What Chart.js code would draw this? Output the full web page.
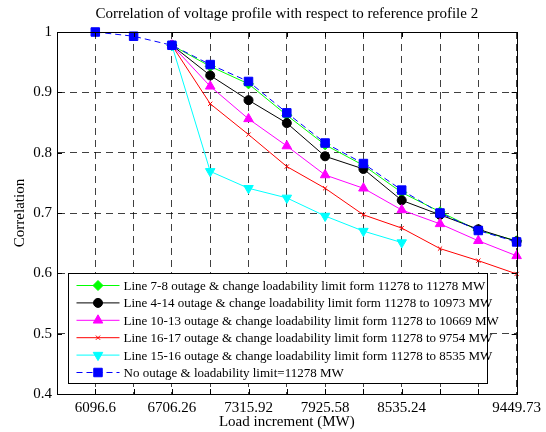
<!DOCTYPE html>
<html lang="en">
<head>
    <meta charset="UTF-8">
    <title>Correlation of voltage profile</title>
    <script src="https://cdn.jsdelivr.net/npm/chart.js"></script>
    <style>
        html, body { margin: 0; padding: 0; background: #fff; }
        .chart-box { width: 546px; height: 432px; }
    </style>
</head>
<body>
    <div class="chart-box"><canvas id="corrChart"></canvas></div>

    <script>
        // load steps (MW) and the axis start
        const loads = [6096.6, 6401.43, 6706.26, 7011.09, 7315.92, 7620.75, 7925.58, 8230.41, 8535.24, 8840.07, 9144.9, 9449.73];
        const xStart = 5791.77;
        const xTickLabels = ['6096.6', '6706.26', '7315.92', '7925.58', '8535.24', '9449.73'];

        const line78 = [null, null, 0.978, 0.943, 0.914, 0.862, 0.813, 0.779, 0.734, 0.702, 0.671, 0.654];
        const line414 = [null, null, 0.978, 0.928, 0.887, 0.849, 0.794, 0.773, 0.721, 0.697, 0.673, 0.653];
        const line1013 = [null, null, 0.978, 0.910, 0.856, 0.811, 0.763, 0.741, 0.705, 0.682, 0.654, 0.629];
        const line1617 = [null, null, 0.978, 0.881, 0.830, 0.777, 0.741, 0.697, 0.675, 0.641, 0.621, 0.599];
        const line1516 = [null, null, 0.978, 0.769, 0.741, 0.725, 0.695, 0.670, 0.651, null, null, null];
        const noOutage = [1.0, 0.993, 0.978, 0.946, 0.918, 0.866, 0.816, 0.782, 0.738, 0.700, 0.671, 0.652];

        const labels = [
            'Line 7-8 outage & change loadability limit form 11278 to 11278 MW',
            'Line 4-14 outage & change loadability limit form 11278 to 10973 MW',
            'Line 10-13 outage & change loadability limit form 11278 to 10669 MW',
            'Line 16-17 outage & change loadability limit form 11278 to 9754 MW',
            'Line 15-16 outage & change loadability limit form 11278 to 8535 MW',
            'No outage & loadability limit=11278 MW'
        ];
        const chartTitle = 'Correlation of voltage profile with respect to reference profile 2';

        const serif = 'Liberation Serif, Times New Roman, serif';

        function pts(arr) {
            return arr.map((v, i) => ({ x: loads[i], y: v }));
        }

        function ds(label, data, color, style, radius, extra) {
            return Object.assign({
                label: label,
                data: pts(data),
                borderColor: color,
                backgroundColor: color,
                borderWidth: 1,
                pointStyle: style,
                pointRadius: radius,
                pointBorderWidth: 1,
                pointBorderColor: color,
                pointBackgroundColor: color,
                tension: 0,
                spanGaps: false,
                clip: false,
                order: 1
            }, extra || {});
        }

        const datasets = [
            ds(labels[0], line78, '#00ff00', 'rectRot', 5, { order: 6 }),
            ds(labels[1], line414, '#000000', 'circle', 4.5, { order: 5 }),
            ds(labels[2], line1013, '#ff00ff', 'triangle', 5.5, { order: 4 }),
            ds(labels[3], line1617, '#ff0000', 'crossRot', 3, { order: 3 }),
            ds(labels[4], line1516, '#00ffff', 'triangle', 5.5, { order: 2, pointRotation: 180 }),
            ds(labels[5], noOutage, '#0000ff', 'rect', 6, { order: 1, borderDash: [6, 4] })
        ];

        // matlab style box, inward ticks, title over the plot and legend inside it
        const matlabBox = {
            id: 'matlabBox',
            afterDraw(chart) {
                const ctx = chart.ctx;
                const ca = chart.chartArea;
                const xs = chart.scales.x, ys = chart.scales.y;
                ctx.save();
                ctx.strokeStyle = '#000';
                ctx.lineWidth = 1;
                ctx.setLineDash([]);
                ctx.beginPath();
                loads.forEach(v => {
                    const px = Math.round(xs.getPixelForValue(v)) + 0.5;
                    ctx.moveTo(px, ca.bottom); ctx.lineTo(px, ca.bottom - 5);
                    ctx.moveTo(px, ca.top); ctx.lineTo(px, ca.top + 5);
                });
                for (let v = 0.4; v <= 1.0001; v += 0.1) {
                    const py = Math.round(ys.getPixelForValue(v)) + 0.5;
                    ctx.moveTo(ca.left, py); ctx.lineTo(ca.left + 5, py);
                    ctx.moveTo(ca.right, py); ctx.lineTo(ca.right - 5, py);
                }
                ctx.stroke();
                ctx.strokeRect(Math.round(ca.left) + 0.5, Math.round(ca.top) + 0.5,
                    Math.round(ca.right - ca.left), Math.round(ca.bottom - ca.top));

                // title
                ctx.fillStyle = '#000';
                ctx.font = '15px ' + serif;
                ctx.textAlign = 'center';
                ctx.textBaseline = 'middle';
                ctx.fillText(chartTitle, (ca.left + ca.right) / 2, 14);

                // legend
                const bx = Math.round(ca.left) + 11.5;
                const bw = 419;
                const bh = 110;
                const by = Math.round(ca.bottom) - 10.5 - bh;
                ctx.fillStyle = '#fff';
                ctx.fillRect(bx, by, bw, bh);
                ctx.strokeRect(bx, by, bw, bh);
                ctx.font = '13px ' + serif;
                ctx.textAlign = 'left';
                chart.data.datasets.forEach((d, i) => {
                    const y = by + 12 + i * 17.4;
                    ctx.strokeStyle = d.borderColor;
                    ctx.setLineDash(d.borderDash || []);
                    ctx.beginPath();
                    ctx.moveTo(bx + 8, y);
                    ctx.lineTo(bx + 51, y);
                    ctx.stroke();
                    ctx.setLineDash([]);
                    ctx.fillStyle = d.borderColor;
                    Chart.helpers.drawPoint(ctx, {
                        pointStyle: d.pointStyle,
                        radius: d.pointRadius,
                        rotation: d.pointRotation || 0,
                        borderWidth: 1
                    }, bx + 29.5, y);
                    ctx.fillStyle = '#000';
                    ctx.fillText(d.label, bx + 55, y + 1);
                });
                ctx.restore();
            }
        };

        const ctx = document.getElementById('corrChart').getContext('2d');
        new Chart(ctx, {
            type: 'line',
            data: { datasets: datasets },
            plugins: [matlabBox],
            options: {
                responsive: true,
                maintainAspectRatio: false,
                animation: false,
                layout: { padding: { left: 0, right: 29, top: 32, bottom: 0 } },
                plugins: {
                    legend: { display: false },
                    tooltip: { enabled: false },
                    title: { display: false }
                },
                scales: {
                    x: {
                        type: 'linear',
                        min: xStart,
                        max: loads[loads.length - 1],
                        afterBuildTicks(scale) {
                            scale.ticks = [xStart].concat(loads).map(v => ({ value: v }));
                        },
                        afterFit(scale) { scale.height = 38; },
                        ticks: {
                            autoSkip: false,
                            maxRotation: 0,
                            padding: 5,
                            color: '#000',
                            font: { family: serif, size: 15 },
                            callback(value) {
                                const hit = xTickLabels.find(t => Math.abs(parseFloat(t) - value) < 0.01);
                                return hit || '';
                            }
                        },
                        grid: { color: 'rgba(0,0,0,0.75)', drawTicks: false, lineWidth: 1 },
                        border: { display: true, color: '#000', width: 1, dash: [7, 5] },
                        title: {
                            display: true,
                            text: 'Load increment (MW)',
                            color: '#000',
                            font: { family: serif, size: 15 },
                            padding: { top: 0, bottom: 1 }
                        }
                    },
                    y: {
                        min: 0.4,
                        max: 1,
                        afterFit(scale) { scale.width = 57; },
                        ticks: {
                            stepSize: 0.1,
                            padding: 5,
                            color: '#000',
                            font: { family: serif, size: 15 },
                            callback(value) {
                                return String(Math.round(value * 10) / 10);
                            }
                        },
                        grid: { color: 'rgba(0,0,0,0.75)', drawTicks: false, lineWidth: 1 },
                        border: { display: true, color: '#000', width: 1, dash: [7, 5] },
                        title: {
                            display: true,
                            text: 'Correlation',
                            color: '#000',
                            font: { family: serif, size: 15 },
                            padding: { top: 11, bottom: 0 }
                        }
                    }
                }
            }
        });
    </script>
</body>
</html>
